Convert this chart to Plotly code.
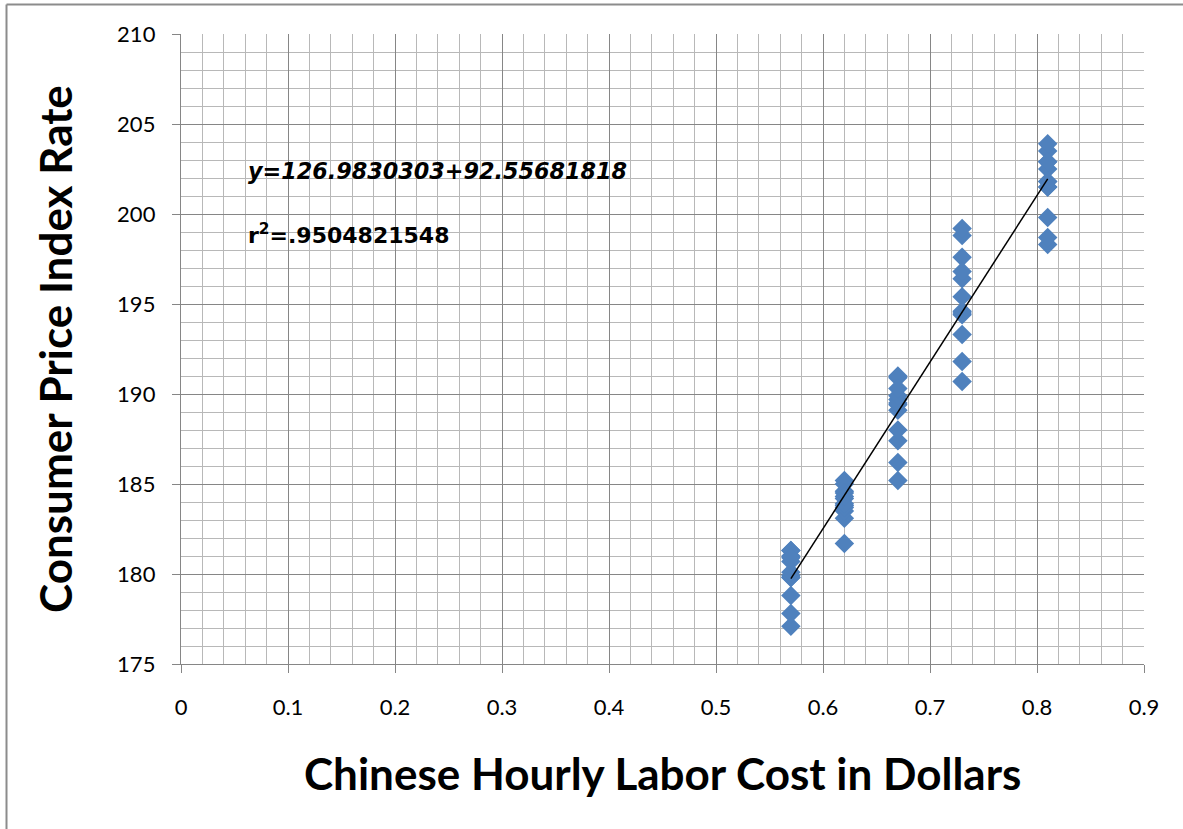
import plotly.graph_objects as go

# ---- data ----
labor_cost_levels = [0.57, 0.62, 0.67, 0.73, 0.81]
cpi_057 = [177.1, 177.8, 178.8, 179.8, 179.8, 179.9, 180.1, 180.7, 181.0, 181.3, 181.3, 180.9]
cpi_062 = [181.7, 183.1, 184.2, 183.8, 183.5, 183.7, 183.9, 184.6, 185.2, 185.0, 184.5, 184.3]
cpi_067 = [185.2, 186.2, 187.4, 188.0, 189.1, 189.7, 189.4, 189.5, 189.9, 190.9, 191.0, 190.3]
cpi_073 = [190.7, 191.8, 193.3, 194.6, 194.4, 194.5, 195.4, 196.4, 198.8, 199.2, 197.6, 196.8]
cpi_081 = [198.3, 198.7, 199.8, 201.5, 202.5, 202.9, 203.5, 203.9, 202.9, 201.8, 201.5, 201.8]
cpi_groups = [cpi_057, cpi_062, cpi_067, cpi_073, cpi_081]

intercept = 126.9830303
slope = 92.55681818
equation_text = "y=126.9830303+92.55681818"
r2_text = "r<sup>2</sup>=.9504821548"

x_title = "Chinese Hourly Labor Cost in Dollars"
y_title = "Consumer Price Index Rate"

xs, ys = [], []
for lv, grp in zip(labor_cost_levels, cpi_groups):
    xs += [lv] * len(grp)
    ys += grp

x_line = [min(labor_cost_levels), max(labor_cost_levels)]
y_line = [intercept + slope * v for v in x_line]

# ---- layout geometry ----
W, H = 1183, 829
L, R, T, B = 181, 39, 34, 165
pw, ph = W - L - R, H - T - B

def px_to_paper_x(px):
    return (px - L) / pw

def px_to_paper_y(py):
    return (H - B - py) / ph

fig = go.Figure()
fig.add_trace(go.Scatter(
    x=xs, y=ys, mode="markers",
    marker=dict(symbol="diamond", size=15, color="#4F81BD", line=dict(width=0)),
    showlegend=False, cliponaxis=False,
))
fig.add_trace(go.Scatter(
    x=x_line, y=y_line, mode="lines",
    line=dict(color="black", width=1.5), showlegend=False,
))

major_col = "#868686"
minor_col = "#b8b8b8"
tick_font = dict(family="Lato, Open Sans, sans-serif", size=22, color="black")

fig.update_xaxes(
    range=[0, 0.9], dtick=0.1, tick0=0,
    showgrid=True, gridcolor=major_col, gridwidth=1.4,
    minor=dict(dtick=0.02, showgrid=True, gridcolor=minor_col, gridwidth=1.4, ticks=""),
    showline=True, linecolor=major_col, linewidth=1.4,
    ticks="outside", ticklen=8, tickcolor=major_col, tickwidth=1.4,
    tickfont=tick_font, ticklabelstandoff=15,
    zeroline=False, fixedrange=True,
)
fig.update_yaxes(
    range=[175, 210], dtick=5, tick0=175,
    showgrid=True, gridcolor=major_col, gridwidth=1.4,
    minor=dict(dtick=1, showgrid=True, gridcolor=minor_col, gridwidth=1.4, ticks=""),
    showline=True, linecolor=major_col, linewidth=1.4,
    ticks="outside", ticklen=8, tickcolor=major_col, tickwidth=1.4,
    tickfont=tick_font, ticklabelstandoff=12,
    zeroline=False, fixedrange=True,
)

title_font = dict(family="Lato, Open Sans, sans-serif", size=44, color="black")
annotations = [
    dict(text="<b>%s</b>" % x_title, xref="paper", yref="paper",
         x=0.5, y=px_to_paper_y(773), xanchor="center", yanchor="middle",
         showarrow=False, font=title_font),
    dict(text="<b>%s</b>" % y_title, xref="paper", yref="paper",
         x=px_to_paper_x(55), y=0.5, xanchor="center", yanchor="middle",
         textangle=-90, showarrow=False, font=title_font),
    dict(text="<b><i>%s</i></b>" % equation_text, xref="paper", yref="paper",
         x=px_to_paper_x(246), y=px_to_paper_y(171), xanchor="left", yanchor="middle",
         showarrow=False, font=dict(family="DejaVu Sans", size=22.3, color="black")),
    dict(text="<b>%s</b>" % r2_text, xref="paper", yref="paper",
         x=px_to_paper_x(246), y=px_to_paper_y(234), xanchor="left", yanchor="middle",
         showarrow=False, font=dict(family="DejaVu Sans", size=22, color="black")),
]

shapes = [
    dict(type="line", xref="paper", yref="paper",
         x0=px_to_paper_x(6.5), x1=px_to_paper_x(6.5),
         y0=px_to_paper_y(900), y1=px_to_paper_y(4.5),
         line=dict(color="#8c8c8c", width=2)),
    dict(type="line", xref="paper", yref="paper",
         x0=px_to_paper_x(6.5), x1=px_to_paper_x(1250),
         y0=px_to_paper_y(4.5), y1=px_to_paper_y(4.5),
         line=dict(color="#8c8c8c", width=2)),
]

fig.update_layout(
    width=W, height=H,
    margin=dict(l=L, r=R, t=T, b=B, autoexpand=False),
    paper_bgcolor="white", plot_bgcolor="white",
    annotations=annotations, shapes=shapes,
    showlegend=False,
)

fig.write_html("out.html", config={"displayModeBar": False})
